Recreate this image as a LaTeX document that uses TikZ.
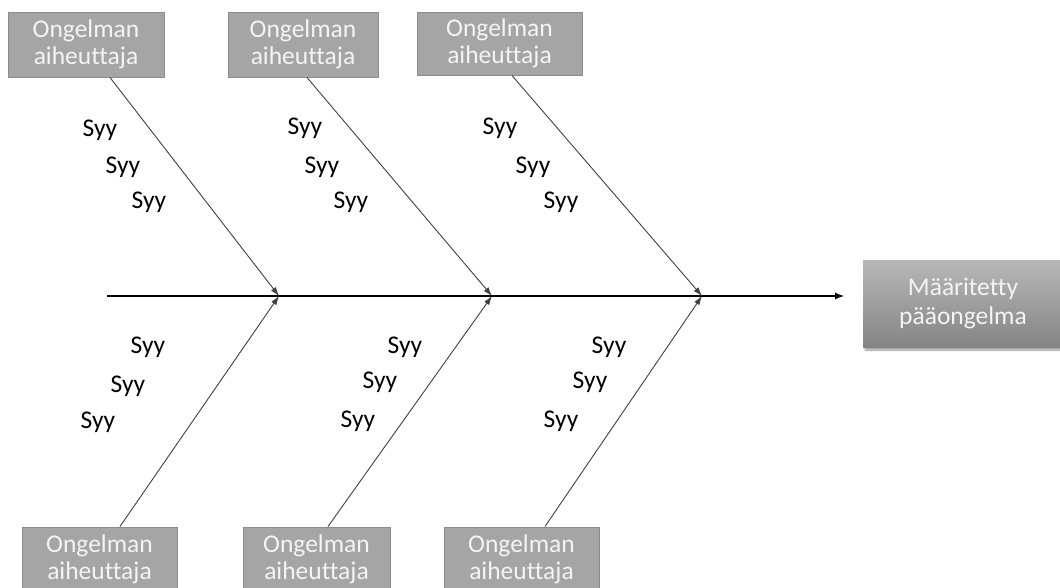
\documentclass[tikz,border=0pt]{standalone}
\usepackage{fontspec}
\setmainfont{Carlito}[Ligatures=CommonOff]
\usetikzlibrary{arrows.meta,shadows.blur}
\definecolor{boxgray}{HTML}{A5A5A5}
\definecolor{boxedge}{HTML}{8C8C8C}
\definecolor{bonegray}{HTML}{404040}
\definecolor{labelwhite}{HTML}{F4F4F4}
\colorlet{effecttop}{black!28}
\colorlet{effectbot}{black!48}
\tikzset{
  cause/.style={draw=boxedge, line width=1pt, fill=boxgray, text=labelwhite,
    align=center, inner sep=0pt, font=\fontsize{25.5}{27}\selectfont},
  effect/.style={text=labelwhite, align=center, inner sep=0pt,
    top color=effecttop, bottom color=effectbot,
    font=\fontsize{25.5}{29}\selectfont,
    blur shadow={shadow xshift=2pt, shadow yshift=-3pt, shadow blur steps=8, shadow opacity=40}},
  bone/.style={draw=bonegray, line width=0.9pt, -{Latex[length=9pt,width=6pt]}},
  spine/.style={draw=black, line width=1.1pt, -{Latex[length=9pt,width=7pt]}},
  why/.style={anchor=base, inner sep=0pt, font=\fontsize{25.5}{27}\selectfont},
}
\begin{document}
\begin{tikzpicture}[x=1pt,y=-1pt]
\useasboundingbox (0,0) rectangle (1060,587);
\begin{scope}
\clip (0,0) rectangle (1060,587);

% effect box
\node[effect, minimum width=200pt, minimum height=87pt] (effect) at (963,303.5)
  {Määritetty\\pääongelma};

% cause boxes, upper row
\node[cause, minimum width=156pt, minimum height=65pt] (t1) at (86,44.5) {Ongelman\\aiheuttaja};
\node[cause, minimum width=150pt, minimum height=65pt] (t2) at (303,44.5) {Ongelman\\aiheuttaja};
\node[cause, minimum width=165pt, minimum height=63pt] (t3) at (499.5,43.5) {Ongelman\\aiheuttaja};

% cause boxes, lower row
\node[cause, minimum width=155pt, minimum height=65pt] (b1) at (99.5,559.5) {Ongelman\\aiheuttaja};
\node[cause, minimum width=147pt, minimum height=65pt] (b2) at (316.5,559.5) {Ongelman\\aiheuttaja};
\node[cause, minimum width=155pt, minimum height=65pt] (b3) at (521.5,559.5) {Ongelman\\aiheuttaja};

% spine
\coordinate (tail) at (107,296);
\coordinate (j1) at (279,296);
\coordinate (j2) at (492,296);
\coordinate (j3) at (702,296);
\coordinate (head) at (844,296);
\draw[spine] (tail) -- (head);

% bones
\draw[bone] (t1.south) ++(24,0) coordinate (t1s) (t1s) -- (j1);
\draw[bone] (t2.south) ++(4,0) coordinate (t2s) (t2s) -- (j2);
\draw[bone] (t3.south) ++(12.5,0) coordinate (t3s) (t3s) -- (j3);
\draw[bone] (b1.north) ++(20.5,0) coordinate (b1n) (b1n) -- (j1);
\draw[bone] (b2.north) ++(11.5,0) coordinate (b2n) (b2n) -- (j2);
\draw[bone] (b3.north) ++(23.5,0) coordinate (b3n) (b3n) -- (j3);

% sub-causes, upper
\node[why] (u11) at (100,136) {Syy};
\node[why] (u12) at (123,173) {Syy};
\node[why] (u13) at (149,208) {Syy};
\node[why] (u21) at (305,134) {Syy};
\node[why] (u22) at (322,173) {Syy};
\node[why] (u23) at (351,208) {Syy};
\node[why] (u31) at (500,134) {Syy};
\node[why] (u32) at (533,173) {Syy};
\node[why] (u33) at (561,208) {Syy};

% sub-causes, lower
\node[why] (l11) at (148,353) {Syy};
\node[why] (l12) at (128,392) {Syy};
\node[why] (l13) at (98,428) {Syy};
\node[why] (l21) at (405,353) {Syy};
\node[why] (l22) at (380,388) {Syy};
\node[why] (l23) at (358,427) {Syy};
\node[why] (l31) at (609,353) {Syy};
\node[why] (l32) at (590,388) {Syy};
\node[why] (l33) at (561,427) {Syy};
\end{scope}
\end{tikzpicture}
\end{document}
